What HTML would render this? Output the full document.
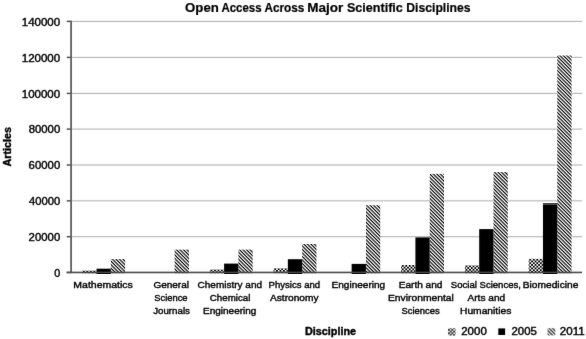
<!DOCTYPE html>
<html><head><meta charset="utf-8"><title>Open Access Across Major Scientific Disciplines</title>
<style>
html,body{margin:0;padding:0;background:#fff;}
body{width:586px;height:339px;overflow:hidden;font-family:"Liberation Sans",sans-serif;}
svg{display:block;}
#w{width:586px;height:339px;}
</style></head><body>
<div id="w"><svg width="586" height="339" viewBox="0 0 586 339" font-family="Liberation Sans, sans-serif"><defs>
<filter id="bl" x="-1%" y="-1%" width="102%" height="102%"><feConvolveMatrix order="3" kernelMatrix="0.0052 0.0619 0.0052 0.0619 0.7314 0.0619 0.0052 0.0619 0.0052" divisor="1" edgeMode="duplicate" preserveAlpha="false"/></filter>
<linearGradient id="dg" x1="0" y1="0" x2="1" y2="0">
<stop offset="0" stop-color="#222"/><stop offset="0.26" stop-color="#222"/><stop offset="0.48" stop-color="#f4f4f4"/><stop offset="0.72" stop-color="#f4f4f4"/><stop offset="0.94" stop-color="#222"/><stop offset="1" stop-color="#222"/>
</linearGradient>
<pattern id="diag" patternUnits="userSpaceOnUse" width="2.475" height="10" patternTransform="rotate(-45)">
<rect x="0" y="0" width="2.475" height="10" fill="url(#dg)"/>
</pattern>
<pattern id="chk" patternUnits="userSpaceOnUse" width="3.5" height="3.5">
<rect width="3.5" height="3.5" fill="#e0e0e0"/>
<rect x="0" y="0" width="1.75" height="1.75" fill="#1e1e1e"/>
<rect x="1.75" y="1.75" width="1.75" height="1.75" fill="#1e1e1e"/>
</pattern>
<pattern id="chk0" patternUnits="userSpaceOnUse" x="82.99" y="270.60" width="3.5" height="3.5"><rect width="3.5" height="3.5" fill="#e0e0e0"/><rect x="0" y="0" width="1.75" height="1.75" fill="#1e1e1e"/><rect x="1.75" y="1.75" width="1.75" height="1.75" fill="#1e1e1e"/></pattern><pattern id="chk2" patternUnits="userSpaceOnUse" x="210.54" y="269.50" width="3.5" height="3.5"><rect width="3.5" height="3.5" fill="#e0e0e0"/><rect x="0" y="0" width="1.75" height="1.75" fill="#1e1e1e"/><rect x="1.75" y="1.75" width="1.75" height="1.75" fill="#1e1e1e"/></pattern><pattern id="chk3" patternUnits="userSpaceOnUse" x="274.31" y="268.30" width="3.5" height="3.5"><rect width="3.5" height="3.5" fill="#e0e0e0"/><rect x="0" y="0" width="1.75" height="1.75" fill="#1e1e1e"/><rect x="1.75" y="1.75" width="1.75" height="1.75" fill="#1e1e1e"/></pattern><pattern id="chk5" patternUnits="userSpaceOnUse" x="401.86" y="265.00" width="3.5" height="3.5"><rect width="3.5" height="3.5" fill="#e0e0e0"/><rect x="0" y="0" width="1.75" height="1.75" fill="#1e1e1e"/><rect x="1.75" y="1.75" width="1.75" height="1.75" fill="#1e1e1e"/></pattern><pattern id="chk6" patternUnits="userSpaceOnUse" x="465.64" y="265.40" width="3.5" height="3.5"><rect width="3.5" height="3.5" fill="#e0e0e0"/><rect x="0" y="0" width="1.75" height="1.75" fill="#1e1e1e"/><rect x="1.75" y="1.75" width="1.75" height="1.75" fill="#1e1e1e"/></pattern><pattern id="chk7" patternUnits="userSpaceOnUse" x="529.41" y="258.80" width="3.5" height="3.5"><rect width="3.5" height="3.5" fill="#e0e0e0"/><rect x="0" y="0" width="1.75" height="1.75" fill="#1e1e1e"/><rect x="1.75" y="1.75" width="1.75" height="1.75" fill="#1e1e1e"/></pattern></defs>
<rect width="586" height="339" fill="#fff"/><g filter="url(#bl)"><rect x="72" y="236.15" width="510.00" height="1.1" fill="#b4b4b4"/>
<rect x="72" y="200.30" width="510.00" height="1.1" fill="#b4b4b4"/>
<rect x="72" y="164.45" width="510.00" height="1.1" fill="#b4b4b4"/>
<rect x="72" y="128.55" width="510.00" height="1.1" fill="#b4b4b4"/>
<rect x="72" y="92.85" width="510.00" height="1.1" fill="#b4b4b4"/>
<rect x="72" y="56.85" width="510.00" height="1.1" fill="#b4b4b4"/>
<rect x="72" y="20.85" width="510.00" height="1.1" fill="#b4b4b4"/></g>
<g><rect x="82.24" y="270.60" width="14.30" height="2.65" fill="url(#chk0)"/>
<rect x="110.84" y="259.10" width="14.30" height="14.15" fill="url(#diag)"/>
<rect x="174.61" y="249.60" width="14.30" height="23.65" fill="url(#diag)"/>
<rect x="209.79" y="269.50" width="14.30" height="3.75" fill="url(#chk2)"/>
<rect x="238.39" y="249.60" width="14.30" height="23.65" fill="url(#diag)"/>
<rect x="273.56" y="268.30" width="14.30" height="4.95" fill="url(#chk3)"/>
<rect x="302.16" y="244.00" width="14.30" height="29.25" fill="url(#diag)"/>
<rect x="365.94" y="205.20" width="14.30" height="68.05" fill="url(#diag)"/>
<rect x="401.11" y="265.00" width="14.30" height="8.25" fill="url(#chk5)"/>
<rect x="429.71" y="173.85" width="14.30" height="99.40" fill="url(#diag)"/>
<rect x="464.89" y="265.40" width="14.30" height="7.85" fill="url(#chk6)"/>
<rect x="493.49" y="172.10" width="14.30" height="101.15" fill="url(#diag)"/>
<rect x="528.66" y="258.80" width="14.30" height="14.45" fill="url(#chk7)"/>
<rect x="557.26" y="55.50" width="14.30" height="217.75" fill="url(#diag)"/></g>
<g filter="url(#bl)"><rect x="96.54" y="268.70" width="14.30" height="4.55" fill="#000"/>
<rect x="224.09" y="263.60" width="14.30" height="9.65" fill="#000"/>
<rect x="287.86" y="259.20" width="14.30" height="14.05" fill="#000"/>
<rect x="351.64" y="263.90" width="14.30" height="9.35" fill="#000"/>
<rect x="415.41" y="237.40" width="14.30" height="35.85" fill="#000"/>
<rect x="479.19" y="229.10" width="14.30" height="44.15" fill="#000"/>
<rect x="542.96" y="204.30" width="14.30" height="68.95" fill="#000"/></g>
<g filter="url(#bl)"><rect x="66.7" y="271.75" width="4.5" height="1.4" fill="#474747"/>
<rect x="66.7" y="236.00" width="4.5" height="1.4" fill="#474747"/>
<rect x="66.7" y="200.15" width="4.5" height="1.4" fill="#474747"/>
<rect x="66.7" y="164.30" width="4.5" height="1.4" fill="#474747"/>
<rect x="66.7" y="128.40" width="4.5" height="1.4" fill="#474747"/>
<rect x="66.7" y="92.70" width="4.5" height="1.4" fill="#474747"/>
<rect x="66.7" y="56.70" width="4.5" height="1.4" fill="#474747"/>
<rect x="66.7" y="20.70" width="4.5" height="1.4" fill="#474747"/>
<rect x="70.2" y="20.70" width="1.8" height="252.45" fill="#5e5e5e"/>
<rect x="66.7" y="271.65" width="515.30" height="1.6" fill="#4a4a4a"/>
<text x="54.17" y="276.55" font-size="10.5" fill="#000" textLength="6.03" lengthAdjust="spacingAndGlyphs" stroke="#000" stroke-width="0.4">0</text>
<text x="28.63" y="240.80" font-size="10.5" fill="#000" textLength="31.57" lengthAdjust="spacingAndGlyphs" stroke="#000" stroke-width="0.4">20000</text>
<text x="28.98" y="204.95" font-size="10.5" fill="#000" textLength="31.23" lengthAdjust="spacingAndGlyphs" stroke="#000" stroke-width="0.4">40000</text>
<text x="28.63" y="169.10" font-size="10.5" fill="#000" textLength="31.57" lengthAdjust="spacingAndGlyphs" stroke="#000" stroke-width="0.4">60000</text>
<text x="28.69" y="133.20" font-size="10.5" fill="#000" textLength="31.52" lengthAdjust="spacingAndGlyphs" stroke="#000" stroke-width="0.4">80000</text>
<text x="21.73" y="97.50" font-size="10.5" fill="#000" textLength="38.49" lengthAdjust="spacingAndGlyphs" stroke="#000" stroke-width="0.4">100000</text>
<text x="21.73" y="61.50" font-size="10.5" fill="#000" textLength="38.49" lengthAdjust="spacingAndGlyphs" stroke="#000" stroke-width="0.4">120000</text>
<text x="21.73" y="25.50" font-size="10.5" fill="#000" textLength="38.49" lengthAdjust="spacingAndGlyphs" stroke="#000" stroke-width="0.4">140000</text>
<text x="185.07" y="11.70" font-size="12" font-weight="bold" fill="#000" textLength="33.73" lengthAdjust="spacingAndGlyphs" stroke="#000" stroke-width="0.2">Open</text>
<text x="221.51" y="11.70" font-size="12" font-weight="bold" fill="#000" textLength="40.08" lengthAdjust="spacingAndGlyphs" stroke="#000" stroke-width="0.2">Access</text>
<text x="264.41" y="11.70" font-size="12" font-weight="bold" fill="#000" textLength="39.97" lengthAdjust="spacingAndGlyphs" stroke="#000" stroke-width="0.2">Across</text>
<text x="307.22" y="11.70" font-size="12" font-weight="bold" fill="#000" textLength="36.04" lengthAdjust="spacingAndGlyphs" stroke="#000" stroke-width="0.2">Major</text>
<text x="346.92" y="11.70" font-size="12" font-weight="bold" fill="#000" textLength="55.97" lengthAdjust="spacingAndGlyphs" stroke="#000" stroke-width="0.2">Scientific</text>
<text x="406.31" y="11.70" font-size="12" font-weight="bold" fill="#000" textLength="64.28" lengthAdjust="spacingAndGlyphs" stroke="#000" stroke-width="0.2">Disciplines</text>
<text x="73.36" y="287.50" font-size="9.6" fill="#000" textLength="59.49" lengthAdjust="spacingAndGlyphs" stroke="#000" stroke-width="0.4">Mathematics</text>
<text x="153.40" y="287.50" font-size="9.6" fill="#000" textLength="35.58" lengthAdjust="spacingAndGlyphs" stroke="#000" stroke-width="0.4">General</text>
<text x="154.28" y="300.90" font-size="9.6" fill="#000" textLength="33.27" lengthAdjust="spacingAndGlyphs" stroke="#000" stroke-width="0.4">Science</text>
<text x="153.15" y="314.20" font-size="9.6" fill="#000" textLength="36.79" lengthAdjust="spacingAndGlyphs" stroke="#000" stroke-width="0.4">Journals</text>
<text x="197.60" y="287.50" font-size="9.6" fill="#000" textLength="64.47" lengthAdjust="spacingAndGlyphs" stroke="#000" stroke-width="0.4">Chemistry and</text>
<text x="209.81" y="300.90" font-size="9.6" fill="#000" textLength="40.55" lengthAdjust="spacingAndGlyphs" stroke="#000" stroke-width="0.4">Chemical</text>
<text x="203.10" y="314.20" font-size="9.6" fill="#000" textLength="53.27" lengthAdjust="spacingAndGlyphs" stroke="#000" stroke-width="0.4">Engineering</text>
<text x="268.53" y="287.50" font-size="9.6" fill="#000" textLength="51.60" lengthAdjust="spacingAndGlyphs" stroke="#000" stroke-width="0.4">Physics and</text>
<text x="270.00" y="300.90" font-size="9.6" fill="#000" textLength="48.49" lengthAdjust="spacingAndGlyphs" stroke="#000" stroke-width="0.4">Astronomy</text>
<text x="331.60" y="287.50" font-size="9.6" fill="#000" textLength="53.58" lengthAdjust="spacingAndGlyphs" stroke="#000" stroke-width="0.4">Engineering</text>
<text x="398.69" y="287.50" font-size="9.6" fill="#000" textLength="43.78" lengthAdjust="spacingAndGlyphs" stroke="#000" stroke-width="0.4">Earth and</text>
<text x="387.98" y="300.90" font-size="9.6" fill="#000" textLength="65.82" lengthAdjust="spacingAndGlyphs" stroke="#000" stroke-width="0.4">Environmental</text>
<text x="401.48" y="314.20" font-size="9.6" fill="#000" textLength="38.23" lengthAdjust="spacingAndGlyphs" stroke="#000" stroke-width="0.4">Sciences</text>
<text x="450.87" y="287.50" font-size="9.6" fill="#000" textLength="70.06" lengthAdjust="spacingAndGlyphs" stroke="#000" stroke-width="0.4">Social Sciences,</text>
<text x="467.50" y="300.90" font-size="9.6" fill="#000" textLength="37.65" lengthAdjust="spacingAndGlyphs" stroke="#000" stroke-width="0.4">Arts and</text>
<text x="459.98" y="314.20" font-size="9.6" fill="#000" textLength="51.40" lengthAdjust="spacingAndGlyphs" stroke="#000" stroke-width="0.4">Humanities</text>
<text x="522.78" y="287.50" font-size="9.6" fill="#000" textLength="55.60" lengthAdjust="spacingAndGlyphs" stroke="#000" stroke-width="0.4">Biomedicine</text>
<text x="305.00" y="335.10" font-size="10.5" font-weight="bold" fill="#000" textLength="51.07" lengthAdjust="spacingAndGlyphs" stroke="#000" stroke-width="0.4">Discipline</text>
<g transform="translate(10.8,166.3) rotate(-90)"><text x="-0.27" y="0.00" font-size="10.5" font-weight="bold" fill="#000" textLength="39.44" lengthAdjust="spacingAndGlyphs" stroke="#000" stroke-width="0.4">Articles</text></g>
<rect x="448" y="328.2" width="7.6" height="7.4" fill="url(#chk)"/>
<text x="461.23" y="334.80" font-size="10.1" fill="#000" textLength="25.57" lengthAdjust="spacingAndGlyphs" stroke="#000" stroke-width="0.4">2000</text>
<rect x="498.3" y="328.4" width="6.8" height="6.6" fill="#000"/>
<text x="511.53" y="334.80" font-size="10.1" fill="#000" textLength="25.32" lengthAdjust="spacingAndGlyphs" stroke="#000" stroke-width="0.4">2005</text>
<rect x="547.5" y="328.2" width="7.8" height="7.2" fill="url(#diag)"/>
<text x="559.82" y="334.80" font-size="10.1" fill="#000" textLength="24.91" lengthAdjust="spacingAndGlyphs" stroke="#000" stroke-width="0.4">2011</text></g></svg></div>
</body></html>
